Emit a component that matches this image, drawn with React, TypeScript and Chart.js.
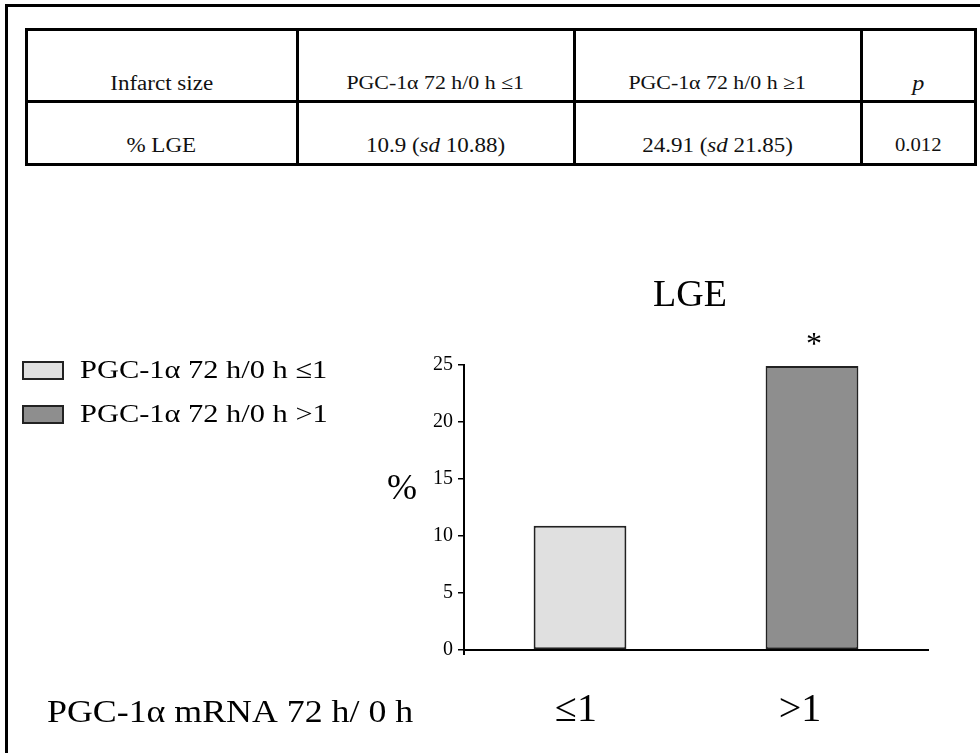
import React, { useEffect, useRef } from 'react';
import { Chart, registerables } from 'chart.js';

Chart.register(...registerables);

// ---- chart data ----
const categories = ['≤1', '>1'];
const lgeValues = [10.9, 24.91];
const barColors = ['#e0e0e0', '#8e8e8e'];
const legendLabels = ['PGC-1α 72 h/0 h ≤1', 'PGC-1α 72 h/0 h >1'];
const significance = ['', '*'];
const yMin = 0;
const yMax = 25;
const yStep = 5;
const chartTitle = 'LGE';
const yLabel = '%';
const xLabel = 'PGC-1α mRNA 72 h/ 0 h';

// ---- table data ----
const tableHeader = ['Infarct size', 'PGC-1α 72 h/0 h ≤1', 'PGC-1α 72 h/0 h ≥1', 'p'];
const rowLabel = '% LGE';
const groupMeans = ['10.9', '24.91'];
const groupSds = ['10.88', '21.85'];
const pValue = '0.012';

// ---- layout constants ----
const W = 980;
const H = 753;
const colEdges = [26, 297, 574, 861, 975];
const rowEdges = [29, 101, 164];
const SERIF_NAME = 'Liberation Serif';
const SERIF = '"Liberation Serif", "Times New Roman", serif';

function stretchText(ctx: CanvasRenderingContext2D, text: string, x: number, y: number, sx: number) {
  ctx.save();
  ctx.translate(x, y);
  ctx.scale(sx, 1);
  ctx.fillText(text, 0, 0);
  ctx.restore();
}

const textPlugin = {
  id: 'textPlugin',
  afterDraw(chart: any) {
    const ctx = chart.ctx as CanvasRenderingContext2D;
    const area = chart.chartArea;
    const xs = chart.scales.x;
    const ys = chart.scales.y;
    ctx.save();
    ctx.fillStyle = '#000';
    // small extension of y axis below zero
    ctx.strokeStyle = '#000';
    ctx.lineWidth = 2;
    ctx.beginPath();
    ctx.moveTo(area.left, area.bottom);
    ctx.lineTo(area.left, area.bottom + 5);
    ctx.stroke();
    // category labels under the x axis
    ctx.font = `40px ${SERIF}`;
    ctx.textAlign = 'center';
    ctx.textBaseline = 'alphabetic';
    categories.forEach((c, i) => {
      ctx.fillText(c, xs.getPixelForValue(i) - 4 - i * 8, area.bottom + 71);
    });
    // title
    ctx.font = `38px ${SERIF}`;
    ctx.fillText(chartTitle, (area.left + area.right) / 2 - 6, area.top - 59);
    // significance markers
    ctx.font = `32px ${SERIF}`;
    significance.forEach((s, i) => {
      if (!s) return;
      const px = xs.getPixelForValue(i);
      const py = ys.getPixelForValue(lgeValues[i]);
      ctx.fillText(s, px + 2, py - 12);
    });
    // y label
    ctx.font = `36px ${SERIF}`;
    ctx.textBaseline = 'middle';
    ctx.fillText(yLabel, area.left - 62, (area.top + area.bottom) / 2 - 18);
    // x caption
    ctx.font = `32px ${SERIF}`;
    ctx.textAlign = 'left';
    ctx.textBaseline = 'alphabetic';
    stretchText(ctx, xLabel, 47, area.bottom + 72, 1.12);
    // legend
    legendLabels.forEach((lab, i) => {
      const by = 362 + i * 44;
      ctx.fillStyle = barColors[i];
      ctx.fillRect(23, by, 40, 17);
      ctx.strokeStyle = '#222';
      ctx.lineWidth = 2;
      ctx.strokeRect(23, by, 40, 17);
      ctx.fillStyle = '#000';
      ctx.font = `26px ${SERIF}`;
      stretchText(ctx, lab, 80, by + 16, 1.17);
    });
    ctx.restore();
  },
};

function Cell({ left, right, baseline, size, children, italic }: any) {
  return (
    <div
      style={{
        position: 'absolute',
        left,
        width: right - left,
        top: baseline - 0.9375 * size,
        fontSize: size,
        lineHeight: 1.2,
        textAlign: 'center',
        fontStyle: italic ? 'italic' : 'normal',
        whiteSpace: 'nowrap',
      }}
    >
      <span style={{ display: 'inline-block', transform: 'scaleX(1.15)', transformOrigin: 'center' }}>{children}</span>
    </div>
  );
}

export default function App() {
  const ref = useRef<HTMLCanvasElement>(null);

  useEffect(() => {
    const chart = new Chart(ref.current as HTMLCanvasElement, {
      type: 'bar',
      data: {
        labels: categories,
        datasets: [
          {
            label: chartTitle,
            data: lgeValues,
            backgroundColor: barColors,
            borderColor: '#222',
            borderWidth: 2,
            borderSkipped: false,
            barPercentage: 0.4,
            categoryPercentage: 1,
          },
        ],
      },
      options: {
        responsive: false,
        animation: false,
        devicePixelRatio: 1,
        layout: { padding: { left: 410, top: 365, right: 52, bottom: 43 } },
        plugins: {
          legend: { display: false },
          tooltip: { enabled: false },
          title: { display: false },
        },
        scales: {
          x: {
            grid: { display: false, drawTicks: false },
            border: { display: true, color: '#000', width: 2 },
            ticks: { display: false },
            afterFit: (s: any) => {
              s.height = 60;
            },
          },
          y: {
            min: yMin,
            max: yMax,
            grid: {
              display: true,
              drawOnChartArea: false,
              drawTicks: true,
              tickLength: 6,
              color: '#000',
              lineWidth: 1.5,
            },
            border: { display: true, color: '#000', width: 2 },
            ticks: {
              stepSize: yStep,
              color: '#000',
              font: { family: SERIF_NAME, size: 20 },
              padding: 5,
            },
            afterFit: (s: any) => {
              s.width = 54;
            },
          },
        },
      },
      plugins: [textPlugin],
    } as any);
    return () => chart.destroy();
  }, []);

  const lines: any[] = [];
  rowEdges.forEach((y, i) =>
    lines.push(
      <div key={'h' + i} style={{ position: 'absolute', left: colEdges[0] - 1, top: y - 1, width: colEdges[4] - colEdges[0] + 3, height: 3, background: '#000' }} />
    )
  );
  colEdges.forEach((x, i) =>
    lines.push(
      <div key={'v' + i} style={{ position: 'absolute', left: x - 1, top: rowEdges[0] - 1, width: 3, height: rowEdges[2] - rowEdges[0] + 3, background: '#000' }} />
    )
  );

  return (
    <div
      style={{
        position: 'absolute',
        left: 0,
        top: 0,
        width: W,
        height: H,
        background: '#fff',
        overflow: 'hidden',
        fontFamily: SERIF,
        color: '#111',
      }}
    >
      <div style={{ position: 'absolute', left: 5, top: 4, width: W, height: H, borderLeft: '3px solid #000', borderTop: '3px solid #000' }} />
      {lines}
      <Cell left={colEdges[0]} right={colEdges[1]} baseline={90} size={20}>{tableHeader[0]}</Cell>
      <Cell left={colEdges[1]} right={colEdges[2]} baseline={90} size={19}>{tableHeader[1]}</Cell>
      <Cell left={colEdges[2]} right={colEdges[3]} baseline={90} size={19}>{tableHeader[2]}</Cell>
      <Cell left={colEdges[3]} right={colEdges[4]} baseline={91} size={21} italic>{tableHeader[3]}</Cell>
      <Cell left={colEdges[0]} right={colEdges[1]} baseline={152} size={20}>{rowLabel}</Cell>
      {groupMeans.map((m, i) => (
        <Cell key={'m' + i} left={colEdges[i + 1]} right={colEdges[i + 2]} baseline={152} size={20}>
          {m} (<i>sd</i> {groupSds[i]})
        </Cell>
      ))}
      <Cell left={colEdges[3]} right={colEdges[4]} baseline={152} size={18}>{pValue}</Cell>
      <canvas ref={ref} width={W} height={H} style={{ position: 'absolute', left: 0, top: 0 }} />
    </div>
  );
}
